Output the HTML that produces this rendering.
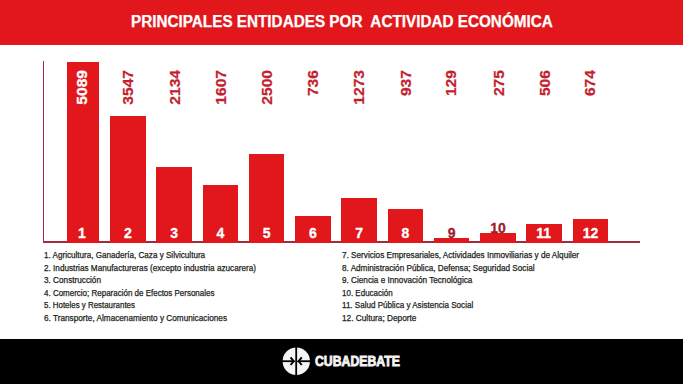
<!DOCTYPE html>
<html><head><meta charset="utf-8">
<style>
*{margin:0;padding:0;box-sizing:border-box}
html,body{width:683px;height:384px;overflow:hidden;background:#fff}
body{position:relative;font-family:"Liberation Sans",sans-serif}
.hdr{position:absolute;left:0;top:0;width:683px;height:44.6px;background:#e2171b}
.title{position:absolute;left:131.4px;top:12.2px;white-space:pre;color:#fff;font-weight:bold;font-size:15.8px;line-height:20px;transform-origin:0 0;transform:scaleX(0.967);-webkit-text-stroke:0.25px #fff}
.ax{position:absolute;background:#a52a40}
.bar{position:absolute;background:#e2171b;bottom:141.2px}
.bl{position:absolute;width:40px;text-align:center;color:#fff;font-weight:bold;font-size:14px;line-height:14px;-webkit-text-stroke:0.3px currentColor}
.vl{position:absolute;top:69.9px;width:0;height:0}
.vl span{position:absolute;right:0;top:0;white-space:nowrap;color:#c41f31;font-weight:bold;font-size:14.8px;line-height:14.8px;-webkit-text-stroke:0.25px currentColor;transform-origin:100% 0;transform:rotate(-90deg) scaleX(1.055)}
.lg{position:absolute;font-size:8.4px;color:#231f20;-webkit-text-stroke:0.25px #231f20;white-space:nowrap;line-height:12px;transform-origin:0 0;transform:scaleX(0.975)}
.logo{position:absolute;left:314.8px;top:350.5px;color:#f4f4f4;font-weight:bold;font-size:15.2px;line-height:20px;white-space:nowrap;transform-origin:0 0;transform:scaleX(0.808);-webkit-text-stroke:0.9px #f4f4f4;letter-spacing:0px}
.ftr{position:absolute;left:0;top:338.8px;width:683px;height:46px;background:#000}
</style></head><body>
<div class="hdr"></div>
<div class="title">PRINCIPALES ENTIDADES POR  ACTIVIDAD ECONÓMICA</div>
<div class="ax" style="left:42.6px;top:61px;width:1.8px;height:182px"></div>
<div class="ax" style="left:42.6px;top:241.35px;width:597.3px;height:1.9px"></div>
<div class="bar" style="left:66.80px;width:32.50px;top:62px"></div>
<div class="bar" style="left:110.10px;width:35.50px;top:116.2px"></div>
<div class="bar" style="left:156.36px;width:35.50px;top:167px"></div>
<div class="bar" style="left:202.62px;width:35.50px;top:185.3px"></div>
<div class="bar" style="left:248.88px;width:35.50px;top:153.75px"></div>
<div class="bar" style="left:295.14px;width:35.50px;top:216.25px"></div>
<div class="bar" style="left:341.40px;width:35.50px;top:197.65px"></div>
<div class="bar" style="left:387.66px;width:35.50px;top:209.2px"></div>
<div class="bar" style="left:433.92px;width:35.50px;top:238px"></div>
<div class="bar" style="left:480.18px;width:35.50px;top:233px"></div>
<div class="bar" style="left:526.44px;width:35.50px;top:224.2px"></div>
<div class="bar" style="left:572.70px;width:35.50px;top:219px"></div>
<div class="vl" style="left:74.70px"><span style="color:#fff;">5089</span></div>
<div class="vl" style="left:120.85px"><span style="">3547</span></div>
<div class="vl" style="left:167.45px"><span style="">2134</span></div>
<div class="vl" style="left:214.00px"><span style="">1607</span></div>
<div class="vl" style="left:259.90px"><span style="">2500</span></div>
<div class="vl" style="left:305.85px"><span style="">736</span></div>
<div class="vl" style="left:352.30px"><span style="">1273</span></div>
<div class="vl" style="left:398.55px"><span style="">937</span></div>
<div class="vl" style="left:444.20px"><span style="">129</span></div>
<div class="vl" style="left:491.35px"><span style="">275</span></div>
<div class="vl" style="left:537.35px"><span style="">506</span></div>
<div class="vl" style="left:582.90px"><span style="">674</span></div>
<div class="bl" style="left:61.85px;top:226px">1</div>
<div class="bl" style="left:107.85px;top:226px">2</div>
<div class="bl" style="left:154.11px;top:226px">3</div>
<div class="bl" style="left:200.37px;top:226px">4</div>
<div class="bl" style="left:246.63px;top:226px">5</div>
<div class="bl" style="left:292.89px;top:226px">6</div>
<div class="bl" style="left:339.15px;top:226px">7</div>
<div class="bl" style="left:385.41px;top:226px">8</div>
<div class="bl" style="left:431.67px;top:226px;color:#9e1c2c">9</div>
<div class="bl" style="left:477.93px;top:220.5px;color:#9e1c2c">10</div>
<div class="bl" style="left:523.59px;top:226px">11</div>
<div class="bl" style="left:570.45px;top:226px">12</div>
<div class="lg" style="left:44.2px;top:249.30px;transform:scaleX(0.9666)">1. Agricultura, Ganadería, Caza y Silvicultura</div>
<div class="lg" style="left:44.2px;top:261.75px;transform:scaleX(0.9773)">2. Industrias Manufactureras (excepto industria azucarera)</div>
<div class="lg" style="left:44.2px;top:274.20px;transform:scaleX(0.9785)">3. Construcción</div>
<div class="lg" style="left:44.2px;top:286.65px;transform:scaleX(0.9536)">4. Comercio; Reparación de Efectos Personales</div>
<div class="lg" style="left:44.2px;top:299.10px;transform:scaleX(0.9438)">5. Hoteles y Restaurantes</div>
<div class="lg" style="left:44.2px;top:311.55px;transform:scaleX(0.9804)">6. Transporte, Almacenamiento y Comunicaciones</div>
<div class="lg" style="left:341.8px;top:249.30px;transform:scaleX(0.9758)">7. Servicios Empresariales, Actividades Inmoviliarias y de Alquiler</div>
<div class="lg" style="left:341.8px;top:261.75px;transform:scaleX(0.9755)">8. Administración Pública, Defensa; Seguridad Social</div>
<div class="lg" style="left:341.8px;top:274.20px;transform:scaleX(0.9765)">9. Ciencia e Innovación Tecnológica</div>
<div class="lg" style="left:341.8px;top:286.65px;transform:scaleX(0.956)">10. Educación</div>
<div class="lg" style="left:341.8px;top:299.10px;transform:scaleX(0.963)">11. Salud Pública y Asistencia Social</div>
<div class="lg" style="left:341.8px;top:311.55px;transform:scaleX(0.987)">12. Cultura; Deporte</div>
<div class="ftr"></div>
<svg style="position:absolute;left:280px;top:345px" width="33" height="33" viewBox="0 0 33 33"><circle cx="16.3" cy="16.3" r="13.7" fill="#f4f4f4"/><rect x="15.3" y="1" width="1.8" height="31" fill="#000"/><rect x="1" y="15.3" width="13" height="1.8" fill="#000"/><rect x="18.6" y="15.3" width="13" height="1.8" fill="#000"/><path d="M10.6,12.4 Q12.6,15.4 14,16.2 Q12.6,17 10.6,20" fill="none" stroke="#000" stroke-width="1.9"/><path d="M21.7,12.4 Q19.7,15.4 18.3,16.2 Q19.7,17 21.7,20" fill="none" stroke="#000" stroke-width="1.9"/></svg>
<div class="logo">CUBADEBATE</div>
</body></html>
